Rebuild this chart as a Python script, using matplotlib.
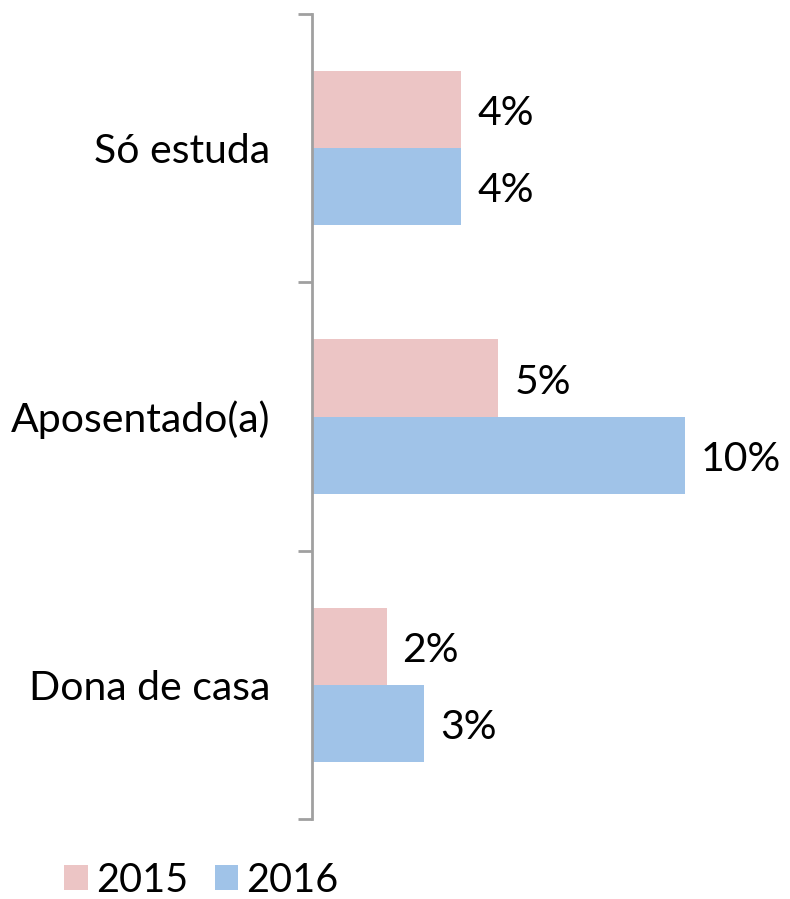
import numpy as np
import matplotlib
matplotlib.use('Agg')
import matplotlib.pyplot as plt

categories = ['Só estuda', 'Aposentado(a)', 'Dona de casa']
years = ['2015', '2016']
vals_2015 = [4, 5, 2]
vals_2016 = [4, 10, 3]
colors = ['#ECC5C5', '#A0C3E8']

plt.rcParams['font.family'] = ['Lato', 'DejaVu Sans']
fs = 29.5

fig = plt.figure(figsize=(7.9, 8.99), dpi=100)
W, H = 790, 899
ax = fig.add_axes([312/W, 80/H, 372.5/W, 805/H])

y = np.arange(len(categories))
h = 0.287
for k, (vals, c) in enumerate(zip([vals_2015, vals_2016], colors)):
    pos = y - h/2 + k*h
    ax.barh(pos, vals, height=h, color=c, label=years[k])
    for p, v in zip(pos, vals):
        ax.text(v + 0.43, p + 0.015, '%d%%' % v, va='center', ha='left',
                fontsize=fs, clip_on=False)

ax.set_xlim(0, 10)
ax.set_ylim(2.5, -0.5)
ax.set_xticks([])
ax.set_yticks(y)
ax.set_yticklabels(categories, fontsize=fs)
ax.set_yticks([-0.5, 0.5, 1.5, 2.5], minor=True)
ax.tick_params(axis='y', which='major', length=0, pad=30)
ax.tick_params(axis='y', which='minor', length=10, width=2, color='#A0A0A0')
for s in ['top', 'right', 'bottom']:
    ax.spines[s].set_visible(False)
ax.spines['left'].set_color('#A0A0A0')
ax.spines['left'].set_linewidth(2)

fig.legend(loc='center left', bbox_to_anchor=(64/W, 1 - 880/H), ncol=2,
           frameon=False, fontsize=28.5, handlelength=0.6, handleheight=0.6,
           handletextpad=0.2, columnspacing=0.68, borderaxespad=0, borderpad=0)

fig.savefig('out.png', dpi=100)
